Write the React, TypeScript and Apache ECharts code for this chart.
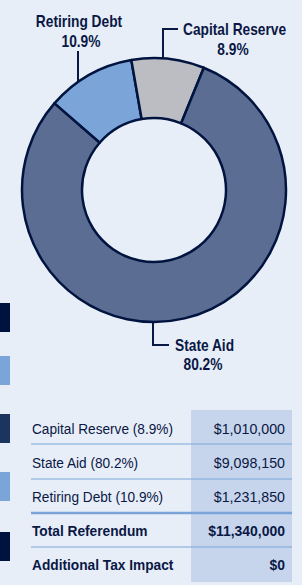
import React, { useEffect, useRef } from "react";
import * as echarts from "echarts";

// ---- data ----
const categories = ["Retiring Debt", "Capital Reserve", "State Aid"];
const percents = [10.9, 8.9, 80.2];
const amounts = [1231850, 1010000, 9098150];
const sliceColors = ["#7BA5D8", "#BBBDC2", "#5B6D93"];

const tableOrder = ["Capital Reserve", "State Aid", "Retiring Debt"];
const totalLabel = "Total Referendum";
const taxLabel = "Additional Tax Impact";
const taxImpact = 0;

const NAVY = "#0A1845";
const FONT = "'Liberation Sans', Arial, Helvetica, sans-serif";

const money = (v: number) => "$" + v.toLocaleString("en-US");

export default function App() {
  const ref = useRef<HTMLDivElement>(null);
  useEffect(() => {
    document.body.style.margin = "0";
    const chart = echarts.init(ref.current!, undefined, { renderer: "svg" });

    const txt = (
      text: string,
      x: number,
      y: number,
      opts: { align?: string; bold?: boolean; size?: number; sx?: number } = {}
    ) => ({
      type: "text",
      x,
      y,
      scaleX: opts.sx ?? 0.86,
      style: {
        text,
        fill: NAVY,
        fontSize: opts.size ?? 16,
        fontWeight: opts.bold === false ? "normal" : "bold",
        fontFamily: FONT,
        align: opts.align ?? "center",
        verticalAlign: "middle",
      },
    });
    const marker = (cx: number, cy: number) => ({
      type: "rect",
      shape: { x: cx - 3.5, y: cy - 3.5, width: 7, height: 7 },
      style: { fill: NAVY },
    });
    const leader = (pts: number[][]) => ({
      type: "polyline",
      shape: { points: pts },
      style: { stroke: NAVY, lineWidth: 2, fill: "none" },
    });

    const idx = (name: string) => categories.indexOf(name);
    const pct = (name: string) => percents[idx(name)].toFixed(1) + "%";

    const rowYs = [429, 463, 497, 531, 565];
    const total = amounts.reduce((a, b) => a + b, 0);
    const tableEls: any[] = [];
    // shaded value column
    tableEls.push({
      type: "rect",
      shape: { x: 191, y: 410, width: 101, height: 172 },
      style: { fill: "#C6D5EC" },
    });
    const rowLines = [444, 479, 513, 547];
    rowLines.forEach((y, i) => {
      tableEls.push({
        type: "line",
        shape: { x1: 31, y1: y, x2: 292, y2: y },
        style: { stroke: "#7BA5D8", lineWidth: i === 2 ? 2.5 : 1.2 },
      });
    });
    tableOrder.forEach((name, i) => {
      tableEls.push(txt(`${name} (${pct(name)})`, 32, rowYs[i], { align: "left", bold: false, size: 15, sx: 0.91 }));
      tableEls.push(txt(money(amounts[idx(name)]), 285, rowYs[i], { align: "right", bold: false, size: 15, sx: 0.95 }));
    });
    [[totalLabel, total], [taxLabel, taxImpact]].forEach(([lab, val], j) => {
      const y = rowYs[3 + j];
      tableEls.push(txt(lab as string, 32, y, { align: "left", size: 15, sx: 0.915 }));
      tableEls.push(txt(money(val as number), 285, y, { align: "right", size: 15, sx: 0.93 }));
    });

    // left side swatches
    const swatches = [
      [303, "#00123F"],
      [356, "#7BA5D8"],
      [414, "#1B3560"],
      [472, "#7BA5D8"],
      [532, "#00123F"],
    ];
    swatches.forEach(([y, c]) => {
      tableEls.push({
        type: "rect",
        shape: { x: 0, y: y as number, width: 10, height: 29 },
        style: { fill: c as string },
      });
    });

    chart.setOption({
      animation: false,
      backgroundColor: "#E8EEF8",
      series: [
        {
          type: "pie",
          center: [154, 190],
          radius: [72, 132],
          startAngle: 139,
          clockwise: true,
          silent: true,
          label: { show: false },
          labelLine: { show: false },
          itemStyle: { borderColor: "#00143F", borderWidth: 2.5 },
          data: categories.map((c, i) => ({
            name: c,
            value: amounts[i],
            itemStyle: { color: sliceColors[i] },
          })),
        },
      ],
      graphic: [
        // Retiring Debt
        txt(categories[0], 79, 21),
        txt(pct(categories[0]), 81, 41),
        leader([[78, 51], [78, 103], [96, 103]]),
        marker(96, 103),
        // Capital Reserve
        txt(categories[1], 183, 29, { align: "left" }),
        txt(pct(categories[1]), 233, 49),
        leader([[163, 85], [163, 29], [178, 29]]),
        marker(163, 85),
        // State Aid
        txt(categories[2], 175, 345, { align: "left" }),
        txt(pct(categories[2]), 203, 364),
        leader([[153, 294], [153, 345], [169, 345]]),
        marker(153, 294),
        ...tableEls,
      ],
    });
    return () => chart.dispose();
  }, []);
  return <div ref={ref} style={{ width: 302, height: 585 }} />;
}
